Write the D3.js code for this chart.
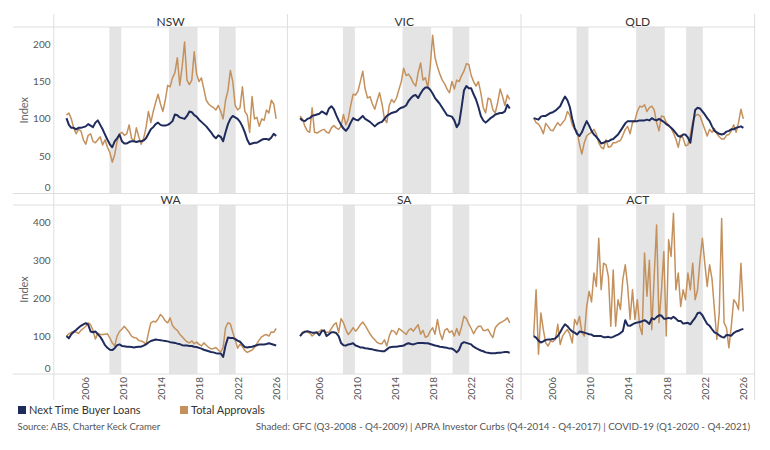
<!DOCTYPE html>
<html>
<head>
<meta charset="utf-8">
<script src="https://cdn.jsdelivr.net/npm/d3@7"></script>
<style>
  body { margin: 0; background: #fff; }
  text { font-family: Lato, "DejaVu Sans", sans-serif; }
</style>
</head>
<body>
<svg id="chart" width="770" height="450"></svg>
<script>
// quarterly index, 2004 = 100
const states = ["NSW", "VIC", "QLD", "WA", "SA", "ACT"];

const nswNext = [101,92,88,88,86,88,88,89,90,93, 91,89,95,98,92,86,79,72,66,62, 70,74,79,70,67,67,69,70,70,69, 70,70,71,74,80,86,89,93,95,92, 91,91,92,94,97,106,105,102,101,100, 104,110,109,105,103,99,96,93,90,86, 82,77,74,78,76,70,82,93,100,104, 102,100,96,90,82,72,66,67,68,68, 70,72,73,73,72,75,80,77];
const nswTotal = [105,108,100,88,80,86,84,72,66,78, 80,70,68,72,76,65,72,62,55,42, 52,70,80,82,78,80,92,74,70,88, 76,66,74,88,110,95,110,122,133,120, 110,125,145,143,155,162,182,145,170,203, 152,146,152,190,160,150,155,140,125,120, 117,115,112,118,110,100,125,138,165,150, 118,112,115,143,110,105,82,130,100,102, 90,100,98,112,108,125,120,100];

const vicNext = [101,98,97,100,101,104,105,106,107,110, 108,106,114,117,113,105,98,92,87,84, 88,95,101,99,98,101,104,100,98,96, 93,90,93,95,96,100,104,106,108,109, 110,113,115,116,118,124,128,131,132,128, 134,139,142,142,139,134,128,124,120,115, 110,105,104,103,98,89,94,115,138,144, 141,141,133,126,116,104,98,95,98,101, 103,106,107,108,108,110,119,114];
const vicTotal = [104,100,90,84,82,115,82,81,83,85, 86,82,81,88,91,88,86,90,106,92, 100,118,133,132,137,150,164,140,128,130, 120,113,125,135,120,100,95,118,126,122, 128,139,150,168,158,160,155,148,144,162, 175,152,155,142,170,212,182,170,160,152, 147,140,135,150,140,152,150,158,164,174, 173,158,150,144,150,135,115,108,128,126, 112,108,122,140,130,118,132,126];

const qldNext = [101,100,99,103,104,104,106,108,109,111, 114,117,124,130,125,116,100,88,80,77, 82,90,97,91,84,79,76,72,67,68, 70,70,72,73,76,79,84,89,94,97, 97,97,97,97,98,98,98,99,98,101, 99,98,100,98,96,93,91,88,85,81, 77,76,79,79,75,68,90,112,115,114, 110,106,101,97,90,84,82,80,79,80, 83,84,86,86,88,89,90,88];
const qldTotal = [101,95,93,88,80,94,90,85,84,90, 95,91,95,99,110,105,92,86,84,66, 53,68,77,80,82,86,80,68,62,60, 72,62,63,68,68,70,71,78,86,90, 80,95,98,110,117,116,119,110,115,117, 112,95,84,104,103,95,92,88,81,73, 62,78,74,64,65,79,96,104,106,104, 95,86,77,86,82,87,80,76,73,73, 78,79,84,92,82,95,113,100];

const waNext = [100,94,105,111,116,122,127,131,134,130, 112,110,112,105,98,88,76,69,64,63, 68,76,78,74,73,72,72,71,70,71, 72,72,75,78,83,87,89,91,90,89, 88,87,86,84,83,82,80,79,76,75, 75,74,74,72,71,69,67,64,62,60, 58,57,55,54,54,45,75,96,95,95, 92,88,85,78,71,70,71,72,74,76, 78,78,78,79,81,79,77,75];
const waTotal = [100,106,110,112,110,107,115,120,126,135, 130,115,92,108,104,104,105,106,95,82, 74,100,112,118,126,118,110,100,96,95, 88,87,84,78,108,135,139,137,145,157, 150,140,135,148,128,120,115,105,98,91, 85,82,87,80,84,78,74,82,76,70, 66,67,70,63,58,70,122,135,132,110, 90,68,78,72,62,57,60,63,70,80, 90,98,102,104,100,111,110,120];

const saNext = [100,108,111,113,111,109,109,110,102,113, 115,100,105,110,110,108,100,82,76,75, 78,79,81,75,73,70,70,68,67,66, 65,63,62,61,60,60,65,70,71,72, 72,73,74,75,79,81,79,78,80,82, 82,82,81,81,79,77,75,74,72,71, 70,69,67,67,63,57,64,80,84,82, 80,78,72,68,65,62,60,57,56,55, 55,55,56,56,57,58,58,56];
const saTotal = [100,110,113,110,108,100,106,109,112,117, 112,110,110,120,130,135,109,146,135,117, 104,112,122,113,120,130,137,128,117,106, 97,90,83,80,80,90,74,100,115,113, 104,120,115,110,104,115,120,113,122,130, 105,115,97,100,113,122,105,144,109,91, 115,120,109,114,100,120,102,125,152,146, 132,120,106,118,126,126,115,115,118,105, 96,122,130,135,138,142,148,135];

const actNext = [100,96,88,83,86,90,91,91,92,94, 100,110,122,131,126,118,112,109,104,112, 111,109,107,105,104,100,100,100,100,97, 97,98,96,98,101,104,108,113,142,128, 127,131,134,136,137,139,142,138,132,147, 144,150,155,154,146,146,148,146,151,146, 140,140,133,134,135,131,140,148,160,162, 155,143,132,127,118,110,107,102,98,96, 103,102,101,108,112,114,117,119];
const actTotal = [100,222,52,161,117,82,74,87,85,91, 131,78,100,110,117,105,82,144,130,152, 109,100,178,218,190,266,231,358,222,292, 288,257,126,274,126,196,170,250,288,231, 144,222,144,196,126,104,319,205,300,117, 257,393,135,218,323,100,354,310,424,222, 266,178,222,196,266,222,292,196,222,300, 358,292,231,288,250,170,91,161,410,135, 122,69,126,196,187,170,292,165];

const xTicks = [2006, 2010, 2014, 2018, 2022, 2026];
const yTicksTop = [0, 50, 100, 150, 200];
const yTicksBottom = [0, 100, 200, 300, 400];
// GFC, APRA investor curbs, COVID-19 (quarter starts)
const shadedStart = [2008.5, 2014.75, 2020.0];
const shadedEnd = [2009.75, 2017.75, 2021.75];
const firstYear = 2004, lastYear = 2026;

const seriesNames = ["Next Time Buyer Loans", "Total Approvals"];
const colors = ["#1f2b5b", "#c4915d"];

const data = {
  NSW: [nswNext, nswTotal], VIC: [vicNext, vicTotal], QLD: [qldNext, qldTotal],
  WA: [waNext, waTotal], SA: [saNext, saTotal], ACT: [actNext, actTotal]
};

const svg = d3.select("#chart");
const panelLeft = 53.8, panelW = 233.6;
const gridColor = "#dedede";
const rows = [
  {top: 27, bottom: 193.5, max: 223.2, ticks: yTicksTop, titleY: 25.5},
  {top: 205, bottom: 374, max: 445.6, ticks: yTicksBottom, titleY: 203.5}
];

const n = nswNext.length;
const timeOf = d3.scaleLinear().domain([0, n - 1]).range([firstYear, lastYear]);

states.forEach((st, k) => {
  const col = k % 3, row = rows[Math.floor(k / 3)];
  const x0 = panelLeft + col * panelW;
  let x = d3.scaleLinear().domain([2002.67, 2027.18]).range([x0, x0 + panelW]);
  let y = d3.scaleLinear().domain([0, row.max]).range([row.bottom, row.top]);

  let g = svg.append("g");

  g.selectAll("rect.shade")
    .data(d3.zip(shadedStart, shadedEnd))
    .enter().append("rect")
      .attr("x", d => x(d[0]))
      .attr("width", d => x(d[1]) - x(d[0]))
      .attr("y", row.top)
      .attr("height", row.bottom - row.top)
      .attr("fill", "#e4e4e4");

  // draw approvals first so the buyer line sits on top
  [1, 0].forEach(s => {
    const line = d3.line()
      .x((d, i) => x(timeOf(i)))
      .y(d => y(d));
    g.append("path")
      .datum(data[st][s])
      .attr("d", line)
      .attr("fill", "none")
      .attr("stroke", colors[s])
      .attr("stroke-width", s == 0 ? 2 : 1.5)
      .attr("stroke-linejoin", "round");
  });

  g.append("text")
    .attr("x", x0 + panelW / 2)
    .attr("y", row.titleY)
    .attr("text-anchor", "middle")
    .attr("font-size", 12)
    .attr("fill", "#333")
    .text(st);

  if (k >= 3) {
    g.selectAll("text.xt")
      .data(xTicks)
      .enter().append("text")
        .attr("transform", d => "translate(" + x(d) + ",377) rotate(-90)")
        .attr("dy", "0.35em")
        .attr("text-anchor", "end")
        .attr("font-size", 10)
        .attr("fill", "#555")
        .text(d => d);
  }

  if (col == 0) {
    g.selectAll("text.yt")
      .data(row.ticks)
      .enter().append("text")
        .attr("x", 50.5)
        .attr("y", d => d == 0 ? y(d) - 6 : y(d))
        .attr("dy", "0.35em")
        .attr("text-anchor", "end")
        .attr("font-size", 10)
        .attr("fill", "#555")
        .text(d => d);
    g.append("text")
      .attr("transform", "translate(24.5," + ((row.top + row.bottom) / 2) + ") rotate(-90)")
      .attr("dy", "0.35em")
      .attr("text-anchor", "middle")
      .attr("font-size", 11)
      .attr("fill", "#666")
      .text("Index");
  }
});

// pane borders
[27, 193.5, 205, 374].forEach(yy => {
  svg.append("line")
    .attr("x1", 13).attr("x2", panelLeft + 3 * panelW)
    .attr("y1", yy).attr("y2", yy)
    .attr("stroke", gridColor);
});
d3.range(4).forEach(c => {
  svg.append("line")
    .attr("x1", panelLeft + c * panelW).attr("x2", panelLeft + c * panelW)
    .attr("y1", 14).attr("y2", 400)
    .attr("stroke", gridColor);
});

// legend
const legendX = [18, 180];
seriesNames.forEach((name, i) => {
  svg.append("rect")
    .attr("x", legendX[i]).attr("y", 406)
    .attr("width", 8).attr("height", 8)
    .attr("fill", colors[i]);
  svg.append("text")
    .attr("x", legendX[i] + 11).attr("y", 414)
    .attr("font-size", 11)
    .attr("fill", "#333")
    .text(name);
});

svg.append("text")
  .attr("x", 17.5).attr("y", 430)
  .attr("font-size", 9.5)
  .attr("fill", "#555")
  .text("Source: ABS, Charter Keck Cramer");

svg.append("text")
  .attr("x", 750).attr("y", 430)
  .attr("text-anchor", "end")
  .attr("font-size", 9.8)
  .attr("fill", "#555")
  .text("Shaded: GFC (Q3-2008 - Q4-2009) | APRA Investor Curbs (Q4-2014 - Q4-2017) | COVID-19 (Q1-2020 - Q4-2021)");
</script>
</body>
</html>
